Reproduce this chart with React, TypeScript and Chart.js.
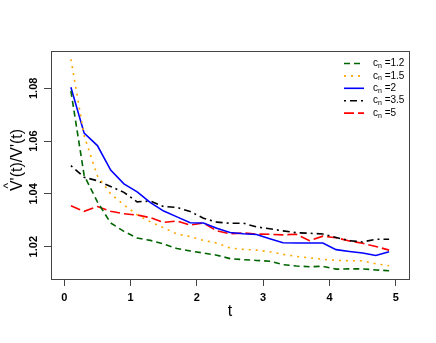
import React, { useEffect, useRef } from "react";
import { Chart, registerables } from "chart.js";

Chart.register(...registerables);

const FONT = "'Liberation Sans', Arial, Helvetica, sans-serif";

// time points (categories)
const tValues = [0.1, 0.3, 0.5, 0.7, 0.9, 1.1, 1.3, 1.5, 1.7, 1.9, 2.1, 2.3, 2.5, 2.7, 2.9, 3.1, 3.3, 3.5, 3.7, 3.9, 4.1, 4.3, 4.5, 4.7, 4.9];

// series values
const cn12 = [1.079, 1.047, 1.037, 1.029, 1.0258, 1.0233, 1.0224, 1.021, 1.0193, 1.0184, 1.0176, 1.0168, 1.0155, 1.0151, 1.0148, 1.0145, 1.0132, 1.0127, 1.0124, 1.0126, 1.0115, 1.0116, 1.0116, 1.0112, 1.0109];
const cn15 = [1.091, 1.062, 1.0468, 1.04, 1.0358, 1.0321, 1.0294, 1.0272, 1.0248, 1.0238, 1.0224, 1.0214, 1.0195, 1.019, 1.0187, 1.0181, 1.0171, 1.0163, 1.0158, 1.0152, 1.0148, 1.0147, 1.0147, 1.0135, 1.0128];
const cn2 = [1.0804, 1.063, 1.0583, 1.049, 1.0438, 1.0408, 1.0367, 1.0335, 1.0313, 1.0291, 1.029, 1.027, 1.0254, 1.0249, 1.0246, 1.023, 1.0215, 1.0214, 1.0214, 1.0214, 1.0189, 1.0182, 1.0176, 1.0167, 1.0181];
const cn35 = [1.0507, 1.0463, 1.045, 1.0428, 1.0406, 1.037, 1.0373, 1.0352, 1.0349, 1.0333, 1.0308, 1.0293, 1.0289, 1.0289, 1.0275, 1.0268, 1.026, 1.0253, 1.0251, 1.0248, 1.0235, 1.0223, 1.0218, 1.0228, 1.0228];
const cn5 = [1.0355, 1.0334, 1.0352, 1.0334, 1.0325, 1.032, 1.031, 1.0292, 1.0297, 1.0282, 1.029, 1.026, 1.0249, 1.0252, 1.0248, 1.0247, 1.0245, 1.0247, 1.0223, 1.024, 1.0234, 1.0222, 1.0213, 1.0201, 1.0187];

// legend labels (c_n values)
const cnLabels = ["1.2", "1.5", "2", "3.5", "5"];

// tick labels
const xTicks = [0, 1, 2, 3, 4, 5];
const yTicks = [1.02, 1.04, 1.06, 1.08];

const seriesValues = [cn12, cn15, cn2, cn35, cn5];
const seriesStyles = [
  { color: "#006400", dash: [6, 4] },
  { color: "#FFA500", dash: [2, 5] },
  { color: "#0000FF", dash: [] as number[] },
  { color: "#000000", dash: [2, 4, 7, 4] },
  { color: "#FF0000", dash: [10, 4] },
];

const decorPlugin = {
  id: "decor",
  afterDatasetsDraw(chart: any) {
    const { ctx, chartArea } = chart;
    ctx.save();
    ctx.strokeStyle = "#444";
    ctx.lineWidth = 1;
    ctx.setLineDash([]);
    ctx.strokeRect(
      Math.round(chartArea.left) + 0.5,
      Math.round(chartArea.top) + 0.5,
      Math.round(chartArea.right - chartArea.left),
      Math.round(chartArea.bottom - chartArea.top)
    );
    ctx.restore();
  },
  afterDraw(chart: any) {
    const { ctx, chartArea } = chart;
    // legend
    const x0 = chartArea.right - 65;
    const x1 = x0 + 20;
    const tx = x0 + 29;
    const yStart = chartArea.top + 12.5;
    const dy = 12.4;
    chart.data.datasets.forEach((ds: any, i: number) => {
      const y = yStart + i * dy;
      ctx.save();
      ctx.strokeStyle = ds.borderColor;
      ctx.lineWidth = ds.borderWidth;
      ctx.setLineDash(ds.borderDash || []);
      ctx.beginPath();
      ctx.moveTo(x0, y);
      ctx.lineTo(x1, y);
      ctx.stroke();
      ctx.restore();
      ctx.save();
      ctx.fillStyle = "#000";
      ctx.textAlign = "left";
      ctx.textBaseline = "middle";
      ctx.font = `10px ${FONT}`;
      ctx.fillText("c", tx, y);
      const cw = ctx.measureText("c").width;
      ctx.font = `7px ${FONT}`;
      ctx.fillText("n", tx + cw, y + 2.5);
      const nw = ctx.measureText("n").width;
      ctx.font = `10px ${FONT}`;
      ctx.fillText(" =" + ds.label, tx + cw + nw, y);
      ctx.restore();
    });
    // y axis title with hat
    ctx.save();
    const cy = (chartArea.top + chartArea.bottom) / 2 - 5;
    ctx.translate(21.7, cy);
    ctx.rotate(-Math.PI / 2);
    ctx.fillStyle = "#000";
    ctx.textBaseline = "alphabetic";
    ctx.textAlign = "center";
    ctx.font = `16px ${FONT}`;
    const txt = "V'(t)/V'(t)";
    const w = ctx.measureText(txt).width;
    ctx.fillText(txt, 0, 0);
    const vw = ctx.measureText("V").width;
    ctx.font = `12px ${FONT}`;
    ctx.fillText("^", -w / 2 + vw / 2, -9.5);
    ctx.restore();
  },
};

export default function App() {
  const ref = useRef<HTMLCanvasElement | null>(null);
  useEffect(() => {
    document.body.style.margin = "0";
    if (!ref.current) return;
    Chart.defaults.font.family = FONT;
    const chart = new Chart(ref.current, {
      type: "line",
      data: {
        datasets: seriesValues.map((vals, i) => ({
          label: cnLabels[i],
          data: tValues.map((t, j) => ({ x: t, y: vals[j] })),
          borderColor: seriesStyles[i].color,
          backgroundColor: seriesStyles[i].color,
          borderDash: seriesStyles[i].dash,
          borderWidth: 1.6,
          pointRadius: 0,
          tension: 0,
          fill: false,
        })),
      },
      options: {
        animation: false,
        responsive: false,
        devicePixelRatio: 1,
        layout: { padding: { top: 51, right: 27, left: 0, bottom: 0 } },
        plugins: { legend: { display: false }, tooltip: { enabled: false } },
        scales: {
          x: {
            type: "linear",
            min: -0.2,
            max: 5.2,
            afterBuildTicks: (s: any) => {
              s.ticks = xTicks.map((v) => ({ value: v }));
            },
            afterFit: (s: any) => {
              s.height = 64;
            },
            border: { display: false },
            grid: { drawOnChartArea: false, tickLength: 7, color: "#444", tickColor: "#444" },
            ticks: {
              padding: 5,
              color: "#000",
              font: { size: 11, weight: "bold" },
              maxRotation: 0,
              autoSkip: false,
              callback: (v: any) => String(v),
            },
            title: {
              display: true,
              text: "t",
              color: "#000",
              font: { size: 16 },
              padding: { top: 0, bottom: 22 },
            },
          },
          y: {
            type: "linear",
            min: 1.00777,
            max: 1.09413,
            afterBuildTicks: (s: any) => {
              s.ticks = yTicks.map((v) => ({ value: v }));
            },
            afterFit: (s: any) => {
              s.width = 51;
            },
            border: { display: false },
            grid: { drawOnChartArea: false, tickLength: 7, color: "#444", tickColor: "#444" },
            ticks: {
              padding: -1,
              color: "#000",
              font: { size: 11, weight: "bold" },
              minRotation: 90,
              maxRotation: 90,
              crossAlign: "center",
              autoSkip: false,
              callback: (v: any) => Number(v).toFixed(2),
            },
          },
        },
      },
      plugins: [decorPlugin],
    } as any);
    return () => chart.destroy();
  }, []);
  return (
    <div style={{ width: 436, height: 343 }}>
      <canvas ref={ref} width={436} height={343} style={{ display: "block", width: 436, height: 343 }} />
    </div>
  );
}
